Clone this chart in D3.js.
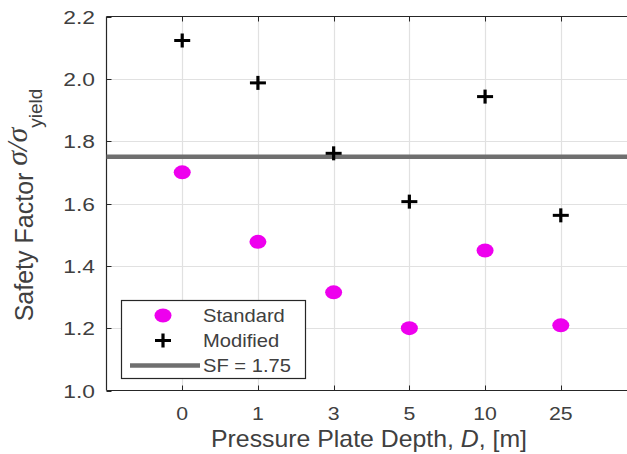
<!DOCTYPE html>
<html><head><meta charset="utf-8">
<script src="https://cdn.jsdelivr.net/npm/d3@7"></script>
<style>body{margin:0;background:#fff}svg{display:block}</style>
</head><body>
<svg id="c" width="627" height="454"></svg>
<script>
const categories = ["0","1","3","5","10","25"];
const standardValues = [1.70, 1.477, 1.315, 1.200, 1.449, 1.209];
const modifiedValues = [2.123, 1.987, 1.761, 1.606, 1.943, 1.562];
const sfValue = 1.75;
const yTicks = [1.0, 1.2, 1.4, 1.6, 1.8, 2.0, 2.2];
const legendLabels = ["Standard", "Modified", "SF = 1.75"];

const svg = d3.select("#c");
const x = d3.scaleLinear().domain([0, 7]).range([106.5, 636.5]);
const y = d3.scaleLinear().domain([1.0, 2.2]).range([390.5, 16.5]);
const xr = x.range(), yr = y.range();
const txt = "#404040", axc = "#262626";

// grid
const g = svg.append("g");
g.selectAll("line.vg").data(categories).join("line")
  .attr("x1",(d,i)=>Math.round(x(i+1))+0.5).attr("x2",(d,i)=>Math.round(x(i+1))+0.5)
  .attr("y1",yr[1]).attr("y2",yr[0]).attr("stroke","#e1e1e1").attr("stroke-width",1.2);
g.selectAll("line.hg").data(yTicks.slice(1,-1)).join("line")
  .attr("y1",d=>Math.round(y(d))+0.5).attr("y2",d=>Math.round(y(d))+0.5)
  .attr("x1",xr[0]).attr("x2",627).attr("stroke","#e1e1e1").attr("stroke-width",1.2);

// axes box
svg.append("line").attr("x1",xr[0]).attr("x2",627).attr("y1",yr[0]).attr("y2",yr[0]).attr("stroke",axc).attr("stroke-width",1.2);
svg.append("line").attr("x1",xr[0]).attr("x2",627).attr("y1",yr[1]).attr("y2",yr[1]).attr("stroke",axc).attr("stroke-width",1.2);
svg.append("line").attr("x1",xr[0]).attr("x2",xr[0]).attr("y1",yr[1]).attr("y2",yr[0]).attr("stroke",axc).attr("stroke-width",1.2);

// ticks (inward)
categories.forEach((c,i)=>{
  const px = Math.round(x(i+1))+0.5;
  svg.append("line").attr("x1",px).attr("x2",px).attr("y1",yr[0]).attr("y2",yr[0]-5).attr("stroke",axc);
  svg.append("line").attr("x1",px).attr("x2",px).attr("y1",yr[1]).attr("y2",yr[1]+5).attr("stroke",axc);
  svg.append("text").attr("transform",`translate(${x(i+1)},${yr[0]+29}) scale(1.12,1)`)
    .attr("text-anchor","middle").attr("font-family","Liberation Sans, Arial, sans-serif")
    .attr("font-size",19).attr("fill",txt).text(c);
});
yTicks.forEach(v=>{
  const py = Math.round(y(v))+0.5;
  svg.append("line").attr("x1",xr[0]).attr("x2",xr[0]+5).attr("y1",py).attr("y2",py).attr("stroke",axc);
  svg.append("text").attr("transform",`translate(95,${y(v)+7}) scale(1.2,1)`)
    .attr("text-anchor","end").attr("font-family","Liberation Sans, Arial, sans-serif")
    .attr("font-size",19).attr("fill",txt).text(v.toFixed(1));
});

// SF line
svg.append("line").attr("x1",xr[0]).attr("x2",627).attr("y1",y(sfValue)).attr("y2",y(sfValue))
  .attr("stroke","#6f6f6f").attr("stroke-width",4.5);

// standard markers
svg.selectAll("ellipse.std").data(standardValues).join("ellipse")
  .attr("cx",(d,i)=>x(i+1)).attr("cy",d=>y(d)).attr("rx",8.5).attr("ry",7).attr("fill","#ee00ee");

// modified markers
const plus = (sel, cx, cy)=>{
  sel.append("line").attr("x1",cx-8).attr("x2",cx+8).attr("y1",cy).attr("y2",cy).attr("stroke","#000").attr("stroke-width",3);
  sel.append("line").attr("x1",cx).attr("x2",cx).attr("y1",cy-7).attr("y2",cy+7).attr("stroke","#000").attr("stroke-width",3.2);
};
modifiedValues.forEach((v,i)=>plus(svg, x(i+1), y(v)));

// legend
const lg = svg.append("g");
lg.append("rect").attr("x",121.5).attr("y",300.5).attr("width",184).attr("height",78)
  .attr("fill","#fff").attr("stroke",axc).attr("stroke-width",1.2);
const ly = [315.5, 340.5, 365.5];
lg.append("ellipse").attr("cx",163).attr("cy",ly[0]).attr("rx",8.5).attr("ry",7).attr("fill","#ee00ee");
plus(lg, 163, ly[1]);
lg.append("line").attr("x1",130).attr("x2",200).attr("y1",ly[2]).attr("y2",ly[2]).attr("stroke","#6f6f6f").attr("stroke-width",4.5);
legendLabels.forEach((t,i)=>{
  lg.append("text").attr("transform",`translate(203,${ly[i]+6.5}) scale(1.12,1)`)
    .attr("font-family","Liberation Sans, Arial, sans-serif").attr("font-size",18).attr("fill",txt).text(t);
});

// x label
const xl = svg.append("text").attr("transform","translate(369,447) scale(1.08,1)").attr("text-anchor","middle")
  .attr("font-family","Liberation Sans, Arial, sans-serif").attr("font-size",23).attr("fill",txt);
xl.append("tspan").text("Pressure Plate Depth, ");
xl.append("tspan").attr("font-style","italic").text("D");
xl.append("tspan").text(", [m]");

// y label
const yl = svg.append("text").attr("transform","translate(33,205) rotate(-90)").attr("text-anchor","middle")
  .attr("font-family","Liberation Sans, Arial, sans-serif").attr("font-size",25).attr("fill",txt);
yl.append("tspan").text("Safety Factor  ");
yl.append("tspan").attr("font-family","Liberation Serif, Times New Roman, serif").attr("font-style","italic").attr("font-size",30).attr("dy",-6).text("σ/σ");
yl.append("tspan").attr("font-size",19).attr("dy",15).text("yield");
</script>
</body></html>
